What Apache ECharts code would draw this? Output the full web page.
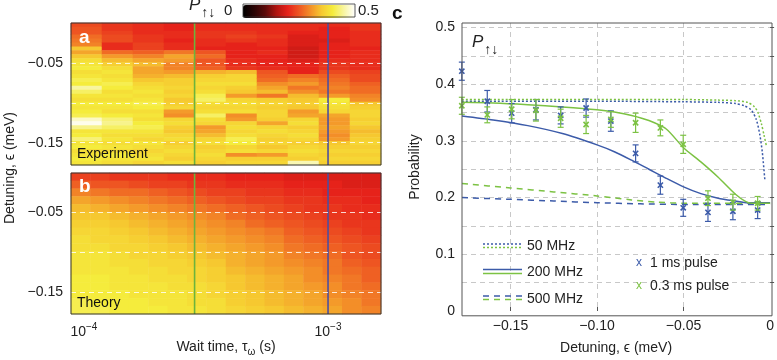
<!DOCTYPE html>
<html><head><meta charset="utf-8">
<script src="https://cdn.jsdelivr.net/npm/echarts@6/dist/echarts.min.js"></script>
<style>html,body{margin:0;padding:0;background:#fff}#c{width:777px;height:360px}</style>
</head><body><div id="c"></div>
<script>
// ---------- DATA ----------
// Panels a/b: wait time axis in log10(seconds), detuning in meV
const waitLogRange = [-4.053, -2.783];
const detuningRange = [-0.178, 0];
const waitTickLogs = [-4, -3];
const detTickLabels = [-0.15, -0.05];
const detDashLines = [-0.15, -0.10, -0.05];
const markTimes = [2.84e-4, 1.0e-3];   // green, blue vertical lines (s)
const colorbarLabels = ['0', '0.5'];

// Experiment heatmap: 10 wait-time columns, 36 detuning rows (top = 0 meV)
const expCol1 = [0.24,0.25,0.25,0.27,0.28,0.29,0.35,0.32,0.35,0.38,0.39,0.40,0.38,0.39,0.41,0.40,0.45,0.42,0.39,0.38,0.40,0.39,0.40,0.41,0.47,0.49,0.44,0.39,0.40,0.43,0.39,0.40,0.38,0.39,0.40,0.39];
const expCol2 = [0.22,0.22,0.23,0.24,0.24,0.21,0.21,0.27,0.31,0.34,0.36,0.38,0.39,0.38,0.39,0.41,0.40,0.38,0.39,0.38,0.40,0.39,0.38,0.40,0.43,0.44,0.42,0.39,0.38,0.39,0.38,0.39,0.38,0.40,0.39,0.38];
const expCol3 = [0.21,0.21,0.21,0.22,0.22,0.23,0.23,0.26,0.29,0.32,0.34,0.32,0.32,0.33,0.35,0.37,0.38,0.39,0.38,0.39,0.41,0.40,0.38,0.39,0.38,0.40,0.41,0.39,0.38,0.37,0.39,0.38,0.37,0.38,0.39,0.37];
const expCol4 = [0.20,0.20,0.21,0.21,0.20,0.21,0.21,0.28,0.32,0.31,0.29,0.29,0.31,0.34,0.36,0.36,0.37,0.36,0.37,0.35,0.36,0.37,0.31,0.30,0.37,0.38,0.36,0.35,0.37,0.38,0.36,0.37,0.38,0.37,0.36,0.38];
const expCol5 = [0.21,0.21,0.22,0.22,0.21,0.21,0.20,0.25,0.27,0.25,0.25,0.26,0.33,0.36,0.37,0.38,0.37,0.38,0.41,0.42,0.38,0.37,0.38,0.42,0.38,0.37,0.31,0.32,0.34,0.37,0.38,0.36,0.37,0.38,0.37,0.36];
const expCol6 = [0.21,0.21,0.22,0.23,0.22,0.20,0.20,0.20,0.20,0.21,0.21,0.22,0.34,0.37,0.37,0.38,0.36,0.35,0.31,0.37,0.38,0.37,0.38,0.30,0.31,0.37,0.38,0.37,0.38,0.41,0.40,0.37,0.38,0.30,0.36,0.37];
const expCol7 = [0.21,0.21,0.21,0.22,0.21,0.21,0.20,0.21,0.20,0.20,0.20,0.21,0.25,0.26,0.27,0.30,0.32,0.34,0.28,0.36,0.37,0.36,0.37,0.37,0.36,0.32,0.37,0.38,0.37,0.36,0.37,0.35,0.37,0.31,0.36,0.37];
const expCol8 = [0.21,0.21,0.20,0.19,0.19,0.19,0.18,0.18,0.18,0.19,0.20,0.20,0.20,0.27,0.29,0.31,0.28,0.30,0.34,0.35,0.36,0.35,0.31,0.32,0.37,0.38,0.36,0.37,0.38,0.37,0.36,0.37,0.38,0.37,0.36,0.46];
const expCol9 = [0.21,0.20,0.20,0.20,0.19,0.20,0.20,0.20,0.20,0.21,0.22,0.22,0.24,0.26,0.27,0.28,0.29,0.28,0.31,0.40,0.39,0.38,0.37,0.32,0.31,0.31,0.32,0.31,0.30,0.31,0.35,0.36,0.37,0.36,0.37,0.36];
const expCol10 = [0.22,0.22,0.21,0.21,0.21,0.21,0.20,0.21,0.21,0.21,0.21,0.21,0.23,0.24,0.24,0.26,0.27,0.27,0.29,0.30,0.35,0.36,0.37,0.37,0.36,0.37,0.35,0.34,0.35,0.36,0.37,0.36,0.37,0.36,0.37,0.36];

// Theory heatmap: 16 columns, 18 rows (top = 0 meV)
const thCol1 = [0.23,0.26,0.29,0.32,0.34,0.35,0.36,0.37,0.38,0.38,0.39,0.39,0.39,0.40,0.40,0.40,0.41,0.41];
const thCol2 = [0.23,0.25,0.28,0.31,0.33,0.35,0.36,0.37,0.37,0.38,0.39,0.39,0.39,0.40,0.40,0.40,0.40,0.41];
const thCol3 = [0.22,0.25,0.27,0.30,0.32,0.34,0.35,0.36,0.37,0.37,0.38,0.38,0.39,0.39,0.39,0.40,0.40,0.40];
const thCol4 = [0.22,0.24,0.27,0.29,0.31,0.33,0.34,0.35,0.36,0.37,0.37,0.38,0.38,0.39,0.39,0.39,0.40,0.40];
const thCol5 = [0.22,0.23,0.26,0.28,0.30,0.32,0.33,0.34,0.35,0.36,0.37,0.37,0.38,0.38,0.39,0.39,0.39,0.40];
const thCol6 = [0.21,0.23,0.25,0.27,0.29,0.31,0.32,0.33,0.34,0.35,0.36,0.37,0.37,0.38,0.38,0.39,0.39,0.39];
const thCol7 = [0.21,0.22,0.24,0.26,0.28,0.30,0.31,0.32,0.33,0.34,0.35,0.36,0.37,0.37,0.38,0.38,0.38,0.39];
const thCol8 = [0.21,0.22,0.23,0.25,0.27,0.29,0.30,0.31,0.32,0.33,0.34,0.35,0.36,0.36,0.37,0.37,0.38,0.38];
const thCol9 = [0.20,0.21,0.23,0.24,0.26,0.27,0.29,0.30,0.31,0.32,0.33,0.33,0.34,0.35,0.35,0.36,0.36,0.37];
const thCol10 = [0.20,0.21,0.22,0.23,0.25,0.26,0.27,0.29,0.30,0.31,0.32,0.32,0.33,0.34,0.34,0.35,0.35,0.36];
const thCol11 = [0.20,0.21,0.22,0.23,0.24,0.25,0.26,0.28,0.29,0.30,0.31,0.31,0.32,0.33,0.33,0.34,0.34,0.35];
const thCol12 = [0.19,0.20,0.21,0.22,0.23,0.24,0.25,0.26,0.27,0.28,0.29,0.30,0.31,0.32,0.32,0.33,0.33,0.34];
const thCol13 = [0.19,0.20,0.21,0.22,0.22,0.23,0.24,0.25,0.26,0.27,0.28,0.29,0.30,0.30,0.31,0.32,0.32,0.33];
const thCol14 = [0.19,0.20,0.20,0.21,0.22,0.22,0.23,0.24,0.25,0.26,0.27,0.28,0.28,0.29,0.30,0.30,0.31,0.32];
const thCol15 = [0.19,0.19,0.20,0.21,0.21,0.22,0.22,0.23,0.24,0.25,0.25,0.26,0.27,0.28,0.28,0.29,0.30,0.30];
const thCol16 = [0.19,0.19,0.20,0.20,0.21,0.21,0.22,0.22,0.23,0.24,0.24,0.25,0.26,0.26,0.27,0.28,0.28,0.29];

// Panel c
const probRange = [0, 0.508];
const probTicks = [0.05,0.10,0.15,0.20,0.25,0.30,0.35,0.40,0.45,0.50];
const probLabels = [0,0.1,0.2,0.3,0.4,0.5];
const detXTicks = [-0.15,-0.10,-0.05];
const detXLabels = [-0.15,-0.10,-0.05,0];

const blue50 = [[-0.178,0.370],[-0.10,0.370],[-0.05,0.369],[-0.03,0.368],[-0.02,0.366],[-0.015,0.362],[-0.011,0.355],[-0.008,0.338],[-0.006,0.312],[-0.0045,0.280],[-0.003,0.230]];
const green50 = [[-0.178,0.373],[-0.10,0.373],[-0.05,0.373],[-0.03,0.372],[-0.02,0.371],[-0.013,0.368],[-0.009,0.360],[-0.007,0.350],[-0.005,0.330],[-0.0035,0.310],[-0.0022,0.292]];
const blue200 = [[-0.178,0.344],[-0.16,0.337],[-0.14,0.327],[-0.12,0.313],[-0.10,0.293],[-0.09,0.281],[-0.08,0.266],[-0.07,0.250],[-0.06,0.234],[-0.05,0.219],[-0.04,0.207],[-0.03,0.199],[-0.02,0.194],[-0.013,0.191],[0,0.191]];
const green200 = [[-0.178,0.368],[-0.16,0.367],[-0.14,0.364],[-0.12,0.360],[-0.10,0.355],[-0.09,0.351],[-0.08,0.345],[-0.07,0.336],[-0.06,0.321],[-0.05,0.288],[-0.04,0.263],[-0.03,0.236],[-0.02,0.206],[-0.014,0.193],[-0.01,0.190],[0,0.190]];
const blue500 = [[-0.178,0.200],[-0.15,0.197],[-0.125,0.194],[-0.10,0.191],[-0.075,0.189],[-0.05,0.188],[0,0.188]];
const green500 = [[-0.178,0.225],[-0.15,0.217],[-0.125,0.210],[-0.10,0.203],[-0.08,0.196],[-0.065,0.192],[-0.05,0.190],[0,0.190]];

const pointEps = [-0.1781,-0.1634,-0.1493,-0.1353,-0.1210,-0.1063,-0.0920,-0.0777,-0.0634,-0.0502,-0.0359,-0.0215,-0.0072];
const blueP   = [0.423,0.370,0.349,0.355,0.345,0.358,0.335,0.278,0.222,0.182,0.174,0.176,0.178];
const blueErr = [0.016,0.019,0.017,0.018,0.015,0.016,0.018,0.015,0.016,0.015,0.016,0.015,0.015];
const greenP   = [0.362,0.346,0.356,0.354,0.340,0.329,0.338,0.332,0.323,0.294,0.199,0.192,0.190];
const greenErr = [0.015,0.014,0.017,0.019,0.016,0.016,0.014,0.017,0.014,0.016,0.013,0.014,0.012];

// ---------- BUILD ----------
const FONT = '"Liberation Sans", Arial, sans-serif';
const BLUE = '#3c5ba9', GREEN = '#7cc243';
const TXT = '#222';
const expCols = [expCol1,expCol2,expCol3,expCol4,expCol5,expCol6,expCol7,expCol8,expCol9,expCol10];
const thCols = [thCol1,thCol2,thCol3,thCol4,thCol5,thCol6,thCol7,thCol8,thCol9,thCol10,thCol11,thCol12,thCol13,thCol14,thCol15,thCol16];
const expData = []; expCols.forEach((col,i)=>col.forEach((v,j)=>expData.push([i,j,v])));
const thData = []; thCols.forEach((col,i)=>col.forEach((v,j)=>thData.push([i,j,v])));
const idx = n => Array.from({length:n},(_,i)=>String(i));

const G = [
  {left:71, top:23, width:310, height:142},
  {left:71, top:173, width:310, height:141},
  {left:462, top:23, width:310, height:292.8}
];

const minusFmt = v => (Math.abs(v) < 1e-9 ? '0' : (v < 0 ? '\u2212' : '') + Math.abs(v).toFixed(2));

function overlayY(gi, showLabels){
  return {type:'value', gridIndex:gi, position:'left', min:detuningRange[0], max:detuningRange[1], z:10,
    axisLine:{show:false},
    axisTick:{show:false, customValues:detDashLines},
    axisLabel:{show:showLabels, customValues:detTickLabels, formatter:minusFmt, fontFamily:FONT, fontSize:14, color:TXT, margin:8},
    splitLine:{show:true, lineStyle:{color:'rgba(255,255,255,0.8)', type:[5,4], width:1}}};
}
function overlayX(gi, showLabels){
  return {type:'value', gridIndex:gi, position:'bottom', min:waitLogRange[0], max:waitLogRange[1],
    axisLine:{show:false}, axisTick:{show:false, customValues:waitTickLogs}, splitLine:{show:false},
    axisLabel:{show:showLabels, customValues:waitTickLogs, margin:8,
      formatter: v => '{b|10}{e|\u2212' + Math.round(-v) + '}',
      rich:{b:{fontFamily:FONT,fontSize:14,color:TXT,verticalAlign:'bottom'}, e:{fontFamily:FONT,fontSize:10,color:TXT,verticalAlign:'bottom',padding:[0,0,7,0]}}},
    name: showLabels ? '{n|Wait time, \u03c4}{s|\u03c9}{n| (s)}' : '', nameLocation:'middle', nameGap:24,
    nameTextStyle:{rich:{n:{fontFamily:FONT,fontSize:14,color:TXT,verticalAlign:'top'}, s:{fontFamily:FONT,fontSize:10,color:TXT,verticalAlign:'top',padding:[7,0,0,0]}}}};
}

function vline(xi, yi, t, color){
  const lx = Math.log10(t);
  return {type:'line', xAxisIndex:xi, yAxisIndex:yi, data:[[lx, detuningRange[0]],[lx, detuningRange[1]]],
    symbol:'none', lineStyle:{color:color, width:1.6}, z:5, silent:true, animation:false};
}

function errRender(color){
  return function(params, api){
    const x = api.value(0), y = api.value(1), e = api.value(2);
    const c = api.coord([x,y]), lo = api.coord([x,y-e]), hi = api.coord([x,y+e]);
    const cap = 3, m = 2.6, st = {stroke:color, lineWidth:1.2};
    return {type:'group', children:[
      {type:'line', shape:{x1:c[0],y1:lo[1],x2:c[0],y2:hi[1]}, style:st},
      {type:'line', shape:{x1:c[0]-cap,y1:lo[1],x2:c[0]+cap,y2:lo[1]}, style:st},
      {type:'line', shape:{x1:c[0]-cap,y1:hi[1],x2:c[0]+cap,y2:hi[1]}, style:st},
      {type:'line', shape:{x1:c[0]-m,y1:c[1]-m,x2:c[0]+m,y2:c[1]+m}, style:{stroke:color,lineWidth:1.6}},
      {type:'line', shape:{x1:c[0]-m,y1:c[1]+m,x2:c[0]+m,y2:c[1]-m}, style:{stroke:color,lineWidth:1.6}}
    ]};
  };
}
function curve(data, color, type, z){
  return {type:'line', xAxisIndex:4, yAxisIndex:4, data:data, symbol:'none', smooth:0.25,
    lineStyle:{color:color, width:1.5, type:type}, z:z, animation:false, silent:true};
}
const pLabelRich = {p:{fontFamily:FONT,fontSize:17,fontStyle:'italic',fill:TXT,verticalAlign:'top'},
  s:{fontFamily:FONT,fontSize:14,fill:TXT,verticalAlign:'top',padding:[9,0,0,1]}};

const option = {
  animation:false,
  backgroundColor:'#fff',
  grid: G,
  visualMap:{type:'continuous', seriesIndex:[0,1], min:0, max:0.5, orient:'horizontal',
    left:228, top:-10, itemWidth:13, itemHeight:112, calculable:false, realtime:false, showLabel:false,
    textStyle:{fontFamily:FONT, fontSize:15, color:TXT},
    inRange:{color:['#000000','#2a0404','#5c0a0a','#b01410','#e6221a','#ee5522','#f38e28','#f6c830','#f5ec3c','#f8f5a0','#ffffff']}},
  xAxis:[
    {type:'category', gridIndex:0, position:'top', data:idx(10), show:false},
    overlayX(0,false),
    {type:'category', gridIndex:1, position:'top', data:idx(16), show:false},
    overlayX(1,true),
    {type:'value', gridIndex:2, min:detuningRange[0], max:detuningRange[1],
      axisLine:{show:false},
      axisTick:{show:true, inside:true, length:4, customValues:detXTicks, lineStyle:{color:'#555'}},
      axisLabel:{customValues:detXLabels, formatter:minusFmt, fontFamily:FONT, fontSize:14, color:TXT, margin:8},
      splitLine:{show:true, lineStyle:{color:'#c8c8c8', type:[5,4]}},
      name:'Detuning, \u03f5 (meV)', nameLocation:'middle', nameGap:30, nameTextStyle:{fontFamily:FONT, fontSize:14, color:TXT}}
  ],
  yAxis:[
    {type:'category', gridIndex:0, position:'right', data:idx(36), inverse:true, show:false},
    overlayY(0,true),
    {type:'category', gridIndex:1, position:'right', data:idx(18), inverse:true, show:false},
    overlayY(1,true),
    {type:'value', gridIndex:2, min:probRange[0], max:probRange[1],
      axisLine:{show:false},
      axisTick:{show:true, inside:true, length:4, customValues:probTicks, lineStyle:{color:'#555'}},
      axisLabel:{customValues:probLabels, formatter:v => (v===0?'0':v.toFixed(1)), fontFamily:FONT, fontSize:14, color:TXT, margin:7},
      splitLine:{show:true, lineStyle:{color:'#c8c8c8', type:[5,4]}},
      name:'Probability', nameLocation:'middle', nameGap:40, nameRotate:90, nameTextStyle:{fontFamily:FONT, fontSize:14, color:TXT}}
  ],
  series:[
    {type:'heatmap', xAxisIndex:0, yAxisIndex:0, data:expData, progressive:0, silent:true, itemStyle:{borderWidth:0}},
    {type:'heatmap', xAxisIndex:2, yAxisIndex:2, data:thData, progressive:0, silent:true, itemStyle:{borderWidth:0}},
    vline(1,1,markTimes[0],'#6cb43c'), vline(1,1,markTimes[1],'#4d4f9e'),
    vline(3,3,markTimes[0],'#6cb43c'), vline(3,3,markTimes[1],'#4d4f9e'),
    curve(blue500, BLUE, [6,5], 3), curve(green500, GREEN, [6,5], 3),
    curve(blue50, BLUE, [2,2], 3), curve(green50, GREEN, [2,2], 3),
    curve(blue200, BLUE, 'solid', 4), curve(green200, GREEN, 'solid', 4),
    {type:'custom', xAxisIndex:4, yAxisIndex:4, renderItem:errRender(BLUE), clip:false, z:6,
      data: pointEps.map((x,i)=>[x, blueP[i], blueErr[i]]), silent:true},
    {type:'custom', xAxisIndex:4, yAxisIndex:4, renderItem:errRender(GREEN), clip:false, z:7,
      data: pointEps.map((x,i)=>[x, greenP[i], greenErr[i]]), silent:true}
  ],
  graphic:[
    {type:'rect', shape:{x:71,y:23,width:310,height:142}, style:{fill:'none', stroke:'#333', lineWidth:1}, z:100, silent:true},
    {type:'rect', shape:{x:71,y:173,width:310,height:141}, style:{fill:'none', stroke:'#333', lineWidth:1}, z:100, silent:true},
    {type:'rect', shape:{x:462,y:23,width:310,height:292.8}, style:{fill:'none', stroke:'#555', lineWidth:1}, z:100, silent:true},
    {type:'rect', shape:{x:243,y:4,width:112,height:13}, style:{fill:'none', stroke:'#333', lineWidth:0.8}, z:100, silent:true},
    {type:'text', x:224, y:3, z:100, style:{text:colorbarLabels[0], fontFamily:FONT, fontSize:15, fill:TXT}},
    {type:'text', x:358, y:3, z:100, style:{text:colorbarLabels[1], fontFamily:FONT, fontSize:15, fill:TXT}},
    {type:'text', x:79, y:28, z:100, style:{text:'a', fontFamily:FONT, fontSize:19, fontWeight:'bold', fill:'#fff'}},
    {type:'text', x:79, y:177, z:100, style:{text:'b', fontFamily:FONT, fontSize:19, fontWeight:'bold', fill:'#fff'}},
    {type:'text', x:392, y:4, z:100, style:{text:'c', fontFamily:FONT, fontSize:19, fontWeight:'bold', fill:'#111'}},
    {type:'text', x:77, y:147, z:100, style:{text:'Experiment', fontFamily:FONT, fontSize:14, fill:'#111'}},
    {type:'text', x:77, y:296, z:100, style:{text:'Theory', fontFamily:FONT, fontSize:14, fill:'#111'}},
    {type:'text', x:189, y:-3, z:100, style:{text:'{p|P}{s|\u2191\u2193}', rich:pLabelRich}},
    {type:'text', x:472, y:34, z:100, style:{text:'{p|P}{s|\u2191\u2193}', rich:pLabelRich}},
    {type:'text', x:10, y:168, rotation:Math.PI/2, z:100, style:{text:'Detuning, \u03f5 (meV)', fontFamily:FONT, fontSize:14, fill:TXT, align:'center', verticalAlign:'middle'}},
    // legend
    {type:'line', shape:{x1:483,y1:244,x2:522,y2:244}, style:{stroke:BLUE, lineWidth:1.5, lineDash:[2,2]}, z:100},
    {type:'line', shape:{x1:483,y1:247.5,x2:522,y2:247.5}, style:{stroke:GREEN, lineWidth:1.5, lineDash:[2,2]}, z:100},
    {type:'line', shape:{x1:483,y1:269.5,x2:522,y2:269.5}, style:{stroke:BLUE, lineWidth:1.5}, z:100},
    {type:'line', shape:{x1:483,y1:273.5,x2:522,y2:273.5}, style:{stroke:GREEN, lineWidth:1.5}, z:100},
    {type:'line', shape:{x1:483,y1:296,x2:522,y2:296}, style:{stroke:BLUE, lineWidth:1.5, lineDash:[6,5]}, z:100},
    {type:'line', shape:{x1:483,y1:299.5,x2:522,y2:299.5}, style:{stroke:GREEN, lineWidth:1.5, lineDash:[6,5]}, z:100},
    {type:'text', x:527, y:246, z:100, style:{text:'50 MHz', fontFamily:FONT, fontSize:14, fill:TXT, verticalAlign:'middle'}},
    {type:'text', x:527, y:272, z:100, style:{text:'200 MHz', fontFamily:FONT, fontSize:14, fill:TXT, verticalAlign:'middle'}},
    {type:'text', x:527, y:299, z:100, style:{text:'500 MHz', fontFamily:FONT, fontSize:14, fill:TXT, verticalAlign:'middle'}},
    {type:'text', x:636, y:263, z:100, style:{text:'x', fontFamily:FONT, fontSize:12, fill:BLUE, verticalAlign:'middle'}},
    {type:'text', x:636, y:286, z:100, style:{text:'x', fontFamily:FONT, fontSize:12, fill:GREEN, verticalAlign:'middle'}},
    {type:'text', x:650, y:263, z:100, style:{text:'1 ms pulse', fontFamily:FONT, fontSize:14, fill:TXT, verticalAlign:'middle'}},
    {type:'text', x:650, y:286, z:100, style:{text:'0.3 ms pulse', fontFamily:FONT, fontSize:14, fill:TXT, verticalAlign:'middle'}}
  ]
};
const chart = echarts.init(document.getElementById('c'));
chart.setOption(option);
</script></body></html>
